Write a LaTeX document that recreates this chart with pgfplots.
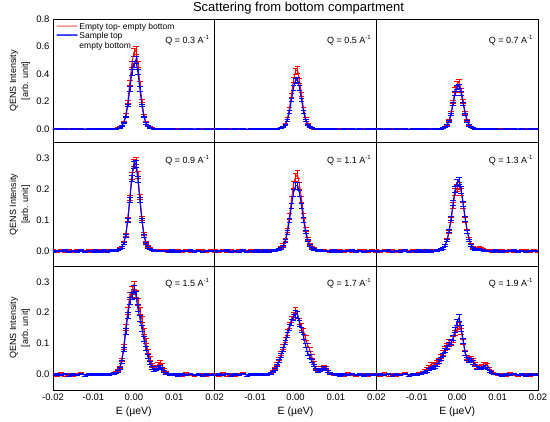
\documentclass[border=0pt]{standalone}
\usepackage{fontspec}
\setmainfont{Liberation Sans}
\newfontfamily\legred[Color=FF0000]{DejaVu Sans}
\newfontfamily\legblue[Color=0000FF]{DejaVu Sans}
\usepackage{pgfplots}
\usepackage{pgfplotstable}
\usepgfplotslibrary{groupplots}
\pgfplotsset{compat=1.18}

\pgfplotstableread{
x r re b be
-0.020 0.002 0.004 -0.001 0.003
-0.019 -0.002 0.004 0.001 0.003
-0.018 0.003 0.004 0.000 0.003
-0.017 -0.001 0.004 0.002 0.003
-0.016 0.001 0.004 -0.002 0.003
-0.015 -0.002 0.004 0.001 0.003
-0.014 0.002 0.004 -0.001 0.003
-0.013 0.003 0.004 0.002 0.003
-0.012 -0.002 0.004 -0.002 0.003
-0.011 0.001 0.004 0.001 0.003
}\baseL
\pgfplotstableread{
x r re b be
-0.0105 -0.001 0.004 0.000 0.003
-0.0100 0.002 0.004 -0.002 0.003
-0.0095 0.000 0.004 0.002 0.003
-0.0090 0.003 0.004 -0.001 0.003
-0.0085 -0.002 0.004 0.001 0.003
-0.0080 0.001 0.004 -0.001 0.003
-0.0075 0.002 0.004 0.002 0.003
-0.0070 -0.002 0.004 0.000 0.003
-0.0065 0.001 0.004 -0.001 0.003
}\midL
\pgfplotstableread{
x r re b be
0.0085 -0.001 0.004 0.001 0.003
0.0090 0.002 0.004 -0.001 0.003
0.0095 0.000 0.004 0.002 0.003
0.0100 -0.002 0.004 0.000 0.003
0.0105 0.001 0.004 -0.001 0.003
}\midR
\pgfplotstableread{
x r re b be
0.011 0.002 0.004 -0.002 0.003
0.012 -0.001 0.004 0.001 0.003
0.013 0.003 0.004 0.000 0.003
0.014 0.000 0.004 0.002 0.003
0.015 -0.002 0.004 -0.001 0.003
0.016 0.001 0.004 0.001 0.003
0.017 0.002 0.004 -0.002 0.003
0.018 -0.001 0.004 0.001 0.003
0.019 0.002 0.004 0.000 0.003
0.020 0.000 0.004 0.001 0.003
}\baseR

% Q = 0.3
\pgfplotstableread{
x r re b be
-0.0060 0.002 0.005 0.000 0.004
-0.0055 -0.001 0.005 0.002 0.004
-0.0050 0.003 0.005 0.001 0.004
-0.0045 0.004 0.005 0.003 0.004
-0.0040 0.007 0.005 0.005 0.004
-0.0035 0.013 0.006 0.010 0.005
-0.0030 0.025 0.006 0.020 0.005
-0.0025 0.050 0.007 0.043 0.006
-0.0020 0.104 0.010 0.088 0.008
-0.0015 0.196 0.014 0.173 0.012
-0.0010 0.338 0.020 0.292 0.017
-0.0005 0.471 0.026 0.412 0.022
0.0000 0.556 0.030 0.470 0.025
0.0005 0.575 0.031 0.503 0.026
0.0010 0.470 0.026 0.415 0.022
0.0015 0.330 0.020 0.293 0.017
0.0020 0.205 0.014 0.172 0.012
0.0025 0.098 0.010 0.088 0.008
0.0030 0.051 0.007 0.042 0.006
0.0035 0.022 0.006 0.021 0.005
0.0040 0.013 0.006 0.010 0.005
0.0045 0.006 0.005 0.005 0.004
0.0050 0.004 0.005 0.002 0.004
0.0055 -0.001 0.005 0.001 0.004
0.0060 0.002 0.005 -0.001 0.004
0.0065 0.001 0.005 0.002 0.004
0.0070 -0.002 0.005 0.000 0.004
0.0075 0.002 0.005 -0.001 0.004
0.0080 0.000 0.005 0.001 0.004
}\pA
% Q = 0.5
\pgfplotstableread{
x r re b be
-0.0060 0.001 0.005 0.000 0.004
-0.0055 0.002 0.005 0.001 0.004
-0.0050 -0.001 0.005 0.002 0.004
-0.0045 0.003 0.005 0.002 0.004
-0.0040 0.005 0.005 0.004 0.004
-0.0035 0.009 0.006 0.007 0.005
-0.0030 0.018 0.006 0.015 0.005
-0.0025 0.037 0.007 0.031 0.006
-0.0020 0.076 0.009 0.064 0.008
-0.0015 0.150 0.012 0.126 0.010
-0.0010 0.248 0.016 0.212 0.014
-0.0005 0.356 0.021 0.298 0.018
0.0000 0.420 0.024 0.352 0.020
0.0005 0.432 0.025 0.360 0.021
0.0010 0.350 0.021 0.300 0.018
0.0015 0.252 0.016 0.211 0.014
0.0020 0.146 0.012 0.126 0.010
0.0025 0.077 0.009 0.064 0.008
0.0030 0.035 0.007 0.031 0.006
0.0035 0.018 0.006 0.015 0.005
0.0040 0.009 0.006 0.007 0.005
0.0045 0.004 0.005 0.004 0.004
0.0050 0.003 0.005 0.002 0.004
0.0055 0.000 0.005 0.001 0.004
0.0060 0.002 0.005 0.000 0.004
0.0065 -0.001 0.005 0.001 0.004
0.0070 0.001 0.005 -0.001 0.004
0.0075 0.002 0.005 0.000 0.004
0.0080 -0.001 0.005 0.001 0.004
}\pB
% Q = 0.7
\pgfplotstableread{
x r re b be
-0.0060 0.002 0.005 -0.001 0.004
-0.0055 0.000 0.005 0.001 0.004
-0.0050 0.002 0.005 0.001 0.004
-0.0045 0.002 0.005 0.002 0.004
-0.0040 0.004 0.005 0.003 0.004
-0.0035 0.007 0.006 0.006 0.005
-0.0030 0.014 0.006 0.013 0.005
-0.0025 0.030 0.007 0.027 0.006
-0.0020 0.061 0.008 0.055 0.007
-0.0015 0.120 0.011 0.108 0.009
-0.0010 0.200 0.014 0.183 0.012
-0.0005 0.285 0.018 0.258 0.015
0.0000 0.330 0.020 0.305 0.017
0.0005 0.342 0.021 0.310 0.018
0.0010 0.280 0.018 0.259 0.015
0.0015 0.201 0.014 0.182 0.012
0.0020 0.118 0.011 0.109 0.009
0.0025 0.061 0.008 0.055 0.007
0.0030 0.029 0.007 0.027 0.006
0.0035 0.014 0.006 0.013 0.005
0.0040 0.007 0.006 0.006 0.005
0.0045 0.004 0.005 0.003 0.004
0.0050 0.001 0.005 0.002 0.004
0.0055 0.002 0.005 0.000 0.004
0.0060 0.000 0.005 0.001 0.004
0.0065 0.002 0.005 -0.001 0.004
0.0070 -0.001 0.005 0.001 0.004
0.0075 0.001 0.005 0.000 0.004
0.0080 0.002 0.005 -0.001 0.004
}\pC
% Q = 0.9
\pgfplotstableread{
x r re b be
-0.0060 0.002 0.003 0.001 0.003
-0.0055 0.001 0.003 0.002 0.003
-0.0050 0.003 0.003 0.001 0.003
-0.0045 0.003 0.003 0.002 0.003
-0.0040 0.004 0.003 0.003 0.003
-0.0035 0.007 0.004 0.006 0.003
-0.0030 0.013 0.004 0.011 0.004
-0.0025 0.026 0.005 0.024 0.004
-0.0020 0.053 0.006 0.050 0.005
-0.0015 0.103 0.008 0.098 0.007
-0.0010 0.172 0.010 0.165 0.009
-0.0005 0.243 0.012 0.235 0.011
0.0000 0.285 0.013 0.278 0.012
0.0005 0.292 0.013 0.283 0.012
0.0010 0.245 0.012 0.232 0.011
0.0015 0.175 0.010 0.165 0.009
0.0020 0.105 0.008 0.098 0.007
0.0025 0.056 0.006 0.050 0.005
0.0030 0.028 0.005 0.024 0.004
0.0035 0.015 0.004 0.012 0.004
0.0040 0.008 0.004 0.006 0.003
0.0045 0.004 0.003 0.003 0.003
0.0050 0.003 0.003 0.002 0.003
0.0055 0.001 0.003 0.000 0.003
0.0060 0.002 0.003 0.001 0.003
0.0065 0.000 0.003 0.001 0.003
0.0070 0.001 0.003 0.000 0.003
0.0075 0.002 0.003 0.001 0.003
0.0080 0.000 0.003 0.000 0.003
}\pD
% Q = 1.1
\pgfplotstableread{
x r re b be
-0.0060 0.002 0.003 0.001 0.003
-0.0055 0.001 0.003 0.002 0.003
-0.0050 0.003 0.003 0.002 0.003
-0.0045 0.004 0.003 0.003 0.003
-0.0040 0.006 0.004 0.005 0.003
-0.0035 0.011 0.004 0.009 0.004
-0.0030 0.019 0.005 0.016 0.004
-0.0025 0.037 0.006 0.032 0.005
-0.0020 0.068 0.007 0.060 0.006
-0.0015 0.112 0.009 0.099 0.008
-0.0010 0.165 0.011 0.145 0.009
-0.0005 0.215 0.012 0.188 0.011
0.0000 0.238 0.013 0.210 0.012
0.0005 0.248 0.013 0.212 0.012
0.0010 0.212 0.012 0.186 0.011
0.0015 0.168 0.011 0.146 0.009
0.0020 0.115 0.009 0.100 0.008
0.0025 0.070 0.007 0.061 0.006
0.0030 0.040 0.006 0.034 0.005
0.0035 0.022 0.005 0.018 0.004
0.0040 0.013 0.004 0.010 0.004
0.0045 0.007 0.004 0.005 0.003
0.0050 0.004 0.003 0.003 0.003
0.0055 0.002 0.003 0.001 0.003
0.0060 0.003 0.003 0.002 0.003
0.0065 0.001 0.003 0.000 0.003
0.0070 0.002 0.003 0.001 0.003
0.0075 0.000 0.003 0.001 0.003
0.0080 0.001 0.003 0.000 0.003
}\pE
% Q = 1.3
\pgfplotstableread{
x r re b be
-0.0060 0.001 0.003 0.000 0.003
-0.0055 0.003 0.003 0.001 0.003
-0.0050 0.002 0.003 0.002 0.003
-0.0045 0.004 0.003 0.003 0.003
-0.0040 0.006 0.004 0.005 0.003
-0.0035 0.010 0.004 0.010 0.004
-0.0030 0.018 0.005 0.017 0.004
-0.0025 0.035 0.006 0.034 0.005
-0.0020 0.062 0.007 0.064 0.006
-0.0015 0.100 0.009 0.105 0.008
-0.0010 0.148 0.010 0.155 0.009
-0.0005 0.190 0.012 0.200 0.011
0.0000 0.205 0.012 0.222 0.012
0.0005 0.212 0.012 0.228 0.012
0.0010 0.190 0.012 0.198 0.011
0.0015 0.148 0.010 0.152 0.009
0.0020 0.102 0.009 0.104 0.008
0.0025 0.064 0.007 0.063 0.006
0.0030 0.038 0.006 0.034 0.005
0.0035 0.020 0.005 0.017 0.004
0.0040 0.012 0.004 0.009 0.004
0.0045 0.008 0.004 0.005 0.003
0.0050 0.009 0.004 0.004 0.003
0.0055 0.011 0.004 0.005 0.003
0.0060 0.010 0.004 0.004 0.003
0.0065 0.006 0.003 0.002 0.003
0.0070 0.003 0.003 0.001 0.003
0.0075 0.001 0.003 0.000 0.003
0.0080 0.002 0.003 0.001 0.003
}\pF
% Q = 1.5
\pgfplotstableread{
x r re b be
-0.0105 0.002 0.003 0.001 0.003
-0.0100 0.001 0.003 0.002 0.003
-0.0095 0.003 0.003 0.000 0.003
-0.0090 0.000 0.003 0.002 0.003
-0.0085 0.002 0.003 0.001 0.003
-0.0080 0.003 0.003 0.001 0.003
-0.0075 0.001 0.003 0.002 0.003
-0.0070 0.003 0.003 0.001 0.003
-0.0065 0.002 0.003 0.002 0.003
-0.0060 0.002 0.003 0.001 0.003
-0.0055 0.003 0.003 0.002 0.003
-0.0050 0.005 0.003 0.004 0.003
-0.0045 0.008 0.004 0.006 0.003
-0.0040 0.013 0.004 0.011 0.004
-0.0035 0.024 0.005 0.020 0.004
-0.0030 0.048 0.006 0.042 0.005
-0.0025 0.090 0.008 0.082 0.007
-0.0020 0.152 0.010 0.140 0.009
-0.0015 0.205 0.012 0.192 0.011
-0.0010 0.255 0.013 0.238 0.012
-0.0005 0.272 0.014 0.255 0.013
0.0000 0.290 0.014 0.275 0.013
0.0005 0.262 0.013 0.258 0.013
0.0010 0.235 0.013 0.215 0.012
0.0015 0.205 0.012 0.182 0.011
0.0020 0.178 0.011 0.150 0.010
0.0025 0.140 0.010 0.115 0.009
0.0030 0.108 0.009 0.085 0.008
0.0035 0.075 0.008 0.058 0.007
0.0040 0.052 0.007 0.038 0.006
0.0045 0.030 0.006 0.022 0.005
0.0050 0.022 0.005 0.015 0.004
0.0055 0.025 0.005 0.016 0.004
0.0060 0.033 0.006 0.022 0.005
0.0065 0.040 0.006 0.026 0.005
0.0070 0.030 0.006 0.020 0.005
0.0075 0.015 0.005 0.010 0.004
0.0080 0.006 0.004 0.004 0.003
0.0085 0.003 0.003 0.002 0.003
0.0090 0.002 0.003 0.001 0.003
0.0095 0.003 0.003 0.002 0.003
0.0100 0.001 0.003 0.000 0.003
0.0105 0.002 0.003 0.001 0.003
}\pG
% Q = 1.7
\pgfplotstableread{
x r re b be
-0.0105 0.001 0.003 0.002 0.003
-0.0100 0.003 0.003 0.001 0.003
-0.0095 0.001 0.003 0.000 0.003
-0.0090 0.002 0.003 0.002 0.003
-0.0085 0.000 0.003 0.001 0.003
-0.0080 0.002 0.003 0.001 0.003
-0.0075 0.003 0.003 0.002 0.003
-0.0070 0.002 0.003 0.001 0.003
-0.0065 0.003 0.003 0.002 0.003
-0.0060 0.006 0.003 0.004 0.003
-0.0055 0.012 0.004 0.009 0.003
-0.0050 0.020 0.005 0.016 0.004
-0.0045 0.035 0.006 0.030 0.005
-0.0040 0.050 0.006 0.045 0.006
-0.0035 0.070 0.007 0.062 0.007
-0.0030 0.090 0.008 0.082 0.008
-0.0025 0.112 0.009 0.105 0.008
-0.0020 0.138 0.010 0.130 0.009
-0.0015 0.160 0.011 0.152 0.010
-0.0010 0.178 0.011 0.170 0.011
-0.0005 0.190 0.012 0.185 0.011
0.0000 0.205 0.012 0.198 0.012
0.0005 0.192 0.012 0.195 0.012
0.0010 0.172 0.011 0.165 0.011
0.0015 0.155 0.011 0.145 0.010
0.0020 0.140 0.010 0.122 0.009
0.0025 0.118 0.009 0.095 0.008
0.0030 0.095 0.008 0.070 0.007
0.0035 0.082 0.008 0.060 0.007
0.0040 0.060 0.007 0.045 0.006
0.0045 0.038 0.006 0.030 0.005
0.0050 0.022 0.005 0.018 0.004
0.0055 0.014 0.004 0.012 0.004
0.0060 0.015 0.004 0.013 0.004
0.0065 0.022 0.005 0.018 0.004
0.0070 0.027 0.005 0.022 0.005
0.0075 0.022 0.005 0.018 0.004
0.0080 0.012 0.004 0.010 0.004
0.0085 0.005 0.003 0.004 0.003
0.0090 0.003 0.003 0.002 0.003
0.0095 0.001 0.003 0.002 0.003
0.0100 0.002 0.003 0.000 0.003
0.0105 0.000 0.003 0.001 0.003
}\pH
% Q = 1.9
\pgfplotstableread{
x r re b be
-0.0105 0.001 0.003 0.002 0.003
-0.0100 0.003 0.003 0.001 0.003
-0.0095 0.004 0.003 0.002 0.003
-0.0090 0.006 0.003 0.003 0.003
-0.0085 0.009 0.004 0.005 0.003
-0.0080 0.013 0.004 0.008 0.003
-0.0075 0.018 0.005 0.011 0.004
-0.0070 0.026 0.005 0.016 0.004
-0.0065 0.033 0.006 0.020 0.005
-0.0060 0.036 0.006 0.022 0.005
-0.0055 0.032 0.006 0.025 0.005
-0.0050 0.040 0.006 0.032 0.005
-0.0045 0.048 0.007 0.043 0.006
-0.0040 0.058 0.007 0.052 0.006
-0.0035 0.070 0.008 0.064 0.007
-0.0030 0.085 0.008 0.078 0.007
-0.0025 0.094 0.009 0.088 0.008
-0.0020 0.105 0.009 0.098 0.008
-0.0015 0.102 0.009 0.105 0.009
-0.0010 0.115 0.010 0.118 0.009
-0.0005 0.135 0.010 0.145 0.010
0.0000 0.150 0.011 0.170 0.011
0.0005 0.158 0.011 0.185 0.012
0.0010 0.140 0.010 0.150 0.011
0.0015 0.105 0.009 0.110 0.009
0.0020 0.070 0.008 0.068 0.007
0.0025 0.056 0.007 0.052 0.006
0.0030 0.050 0.007 0.046 0.006
0.0035 0.052 0.007 0.048 0.006
0.0040 0.046 0.007 0.040 0.006
0.0045 0.034 0.006 0.030 0.005
0.0050 0.026 0.005 0.022 0.005
0.0055 0.025 0.005 0.020 0.004
0.0060 0.028 0.005 0.021 0.004
0.0065 0.033 0.006 0.024 0.005
0.0070 0.036 0.006 0.025 0.005
0.0075 0.030 0.006 0.020 0.005
0.0080 0.020 0.005 0.012 0.004
0.0085 0.010 0.004 0.007 0.003
0.0090 0.005 0.003 0.003 0.003
0.0095 0.003 0.003 0.002 0.003
0.0100 0.001 0.003 0.002 0.003
0.0105 0.002 0.003 0.000 0.003
}\pI

\newcommand\mkTop[2]{%
  \pgfplotstablevertcat{#1}{\baseL}%
  \pgfplotstablevertcat{#1}{\midL}%
  \pgfplotstablevertcat{#1}{#2}%
  \pgfplotstablevertcat{#1}{\midR}%
  \pgfplotstablevertcat{#1}{\baseR}}
\newcommand\mkBot[2]{%
  \pgfplotstablevertcat{#1}{\baseL}%
  \pgfplotstablevertcat{#1}{#2}%
  \pgfplotstablevertcat{#1}{\baseR}}
\mkTop{\tA}{\pA}
\mkTop{\tB}{\pB}
\mkTop{\tC}{\pC}
\mkTop{\tD}{\pD}
\mkTop{\tE}{\pE}
\mkTop{\tF}{\pF}
\mkBot{\tG}{\pG}
\mkBot{\tH}{\pH}
\mkBot{\tI}{\pI}

\definecolor{cr}{rgb}{1,0,0}
\definecolor{cb}{rgb}{0,0,1}
\tikzset{qlab/.style={anchor=east, font=\fontsize{9}{10}\selectfont}}
\pgfplotsset{
  redln/.style={color=cr, line width=0.95pt, no markers, forget plot},
  blueln/.style={color=cb, line width=1.15pt, no markers, forget plot},
  rederr/.style={color=cr, line width=0.45pt, forget plot, no markers, |-|,
    quiver={u=0, v=2*\thisrow{re}}},
  blueerr/.style={color=cb, line width=0.45pt, forget plot, no markers, |-|,
    quiver={u=0, v=2*\thisrow{be}}},
  toprow/.style={ymin=-0.1, ymax=0.8, ytick={0,0.2,0.4,0.6,0.8}, yticklabels={}},
  lowrow/.style={ymin=-0.05, ymax=0.35, ytick={0,0.1,0.2,0.3}, yticklabels={}},
  ylab/.style={ylabel={QENS Intensity\\{}[arb. unit]},
    ylabel style={at={(axis description cs:-0.205,0.5)}, anchor=center, align=center,
      font=\fontsize{9}{12}\selectfont}},
  xlab/.style={xlabel={E (µeV)},
    xlabel style={at={(axis description cs:0.5,0)}, yshift=-22pt, anchor=center,
      font=\fontsize{10.5}{12}\selectfont}},
}
\newcommand\panel[1]{%
  \addplot[rederr] table[x=x, y expr=\thisrow{r}-\thisrow{re}]{#1};
  \addplot[redln] table[x=x, y=r]{#1};
  \addplot[blueerr] table[x=x, y expr=\thisrow{b}-\thisrow{be}]{#1};
  \addplot[blueln] table[x=x, y=b]{#1};
}

\begin{document}
\begin{tikzpicture}
\begin{groupplot}[
  group style={group size=3 by 3, horizontal sep=0pt, vertical sep=0pt},
  width=161.67pt, height=123.67pt, scale only axis,
  xmin=-0.02, xmax=0.02,
  scaled x ticks=false, scaled y ticks=false,
  axis line style={line width=0.7pt},
  major tick length=0pt,
  tick label style={font=\fontsize{9.5}{10}\selectfont},
  xtick={-0.02,-0.01,0,0.01,0.02}, xticklabels={},
  clip=true,
]
\nextgroupplot[toprow, yticklabels={0.0,0.2,0.4,0.6,0.8}, ylab,
  legend style={at={(axis description cs:0.0,0.99)}, anchor=north west, draw=none, fill=none,
    font=\fontsize{8.5}{9.6}\selectfont, nodes={align=left, inner sep=0.8pt}, row sep=0pt,
    /tikz/every odd column/.style={column sep=0pt}},
  legend cell align=left]
\coordinate (TL) at (rel axis cs:0,1);
\panel{\tA}
\addlegendimage{empty legend}
\addlegendentry{{\legred ────}\hspace{2pt}Empty top- empty bottom}
\addlegendimage{empty legend}
\addlegendentry{{\legblue ━━━━}\hspace{2pt}Sample top\\{\legblue\phantom{━━━━}}\hspace{2pt}empty bottom}
\node[qlab] at (rel axis cs:0.99,0.83) {Q = 0.3 A\textsuperscript{-1}};

\nextgroupplot[toprow,
  title={Scattering from bottom compartment},
  title style={at={(axis description cs:0.5,1)}, anchor=center, yshift=5pt, xshift=3pt,
    font=\fontsize{13}{15}\selectfont}]
\panel{\tB}
\node[qlab] at (rel axis cs:0.99,0.83) {Q = 0.5 A\textsuperscript{-1}};

\nextgroupplot[toprow]
\panel{\tC}
\node[qlab] at (rel axis cs:0.99,0.83) {Q = 0.7 A\textsuperscript{-1}};

\nextgroupplot[lowrow, yticklabels={0.0,0.1,0.2,0.3}, ylab]
\panel{\tD}
\node[qlab] at (rel axis cs:0.99,0.86) {Q = 0.9 A\textsuperscript{-1}};

\nextgroupplot[lowrow]
\panel{\tE}
\node[qlab] at (rel axis cs:0.99,0.86) {Q = 1.1 A\textsuperscript{-1}};

\nextgroupplot[lowrow]
\panel{\tF}
\node[qlab] at (rel axis cs:0.99,0.86) {Q = 1.3 A\textsuperscript{-1}};

\nextgroupplot[lowrow, yticklabels={0.0,0.1,0.2,0.3}, ylab, xlab,
  xticklabels={-0.02,-0.01,0.00,0.01,0.02}]
\panel{\tG}
\node[qlab] at (rel axis cs:0.99,0.86) {Q = 1.5 A\textsuperscript{-1}};

\nextgroupplot[lowrow, xlab, xtick={-0.01,0,0.01,0.02}, xticklabels={-0.01,0.00,0.01,0.02}]
\panel{\tH}
\node[qlab] at (rel axis cs:0.99,0.86) {Q = 1.7 A\textsuperscript{-1}};

\nextgroupplot[lowrow, xlab, xtick={-0.01,0,0.01,0.02}, xticklabels={-0.01,0.00,0.01,0.02}]
\panel{\tI}
\node[qlab] at (rel axis cs:0.99,0.86) {Q = 1.9 A\textsuperscript{-1}};
\end{groupplot}
\pgfresetboundingbox
\path (TL) ++(-53pt,19pt) rectangle ++(550pt,-422pt);
\end{tikzpicture}
\end{document}
